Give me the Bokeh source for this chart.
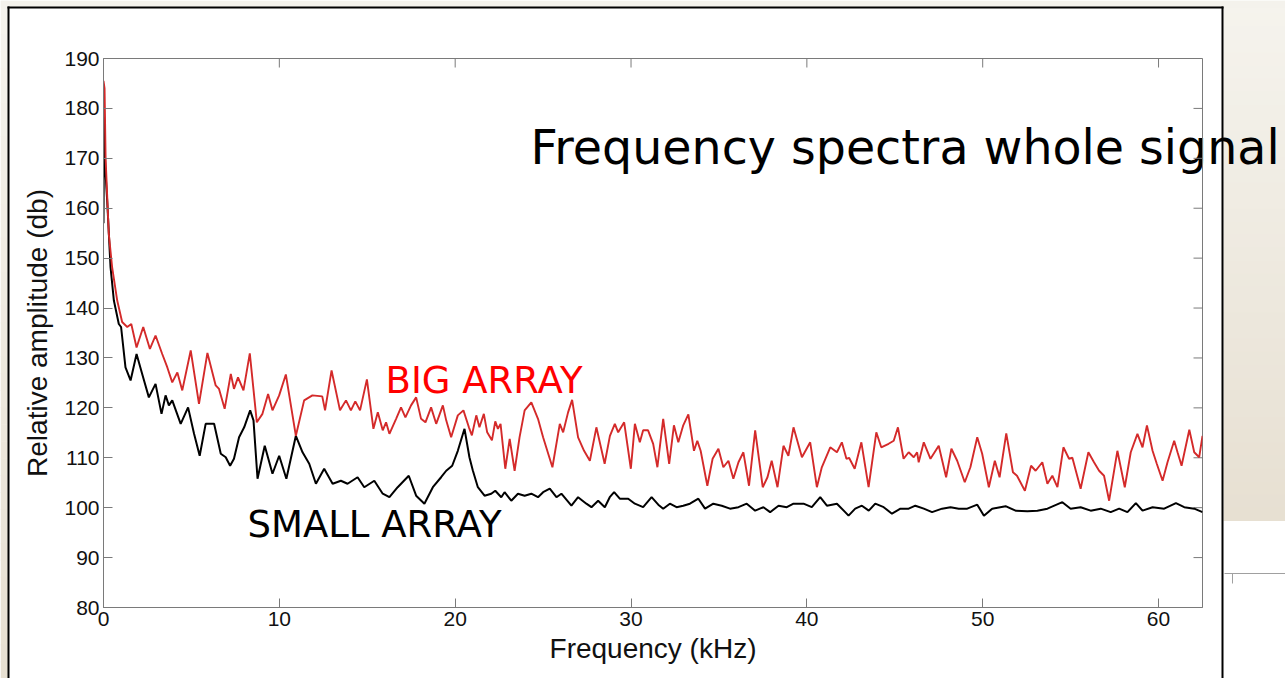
import numpy as np
from bokeh.plotting import figure
from bokeh.models import Range1d, FixedTicker, Label, GridBox
from bokeh.embed import file_html
from bokeh.resources import INLINE

# ---------------- data ----------------
big_freq = [0.00, 0.06, 0.12, 0.30, 0.49, 0.78, 1.06, 1.35, 1.58, 1.88, 2.26, 2.64, 2.96, 3.34, 3.63,
            3.91, 4.20, 4.48, 4.96, 5.43, 5.91, 6.38, 6.57, 6.89, 7.24, 7.42, 7.65, 7.96, 8.32, 8.72,
            9.04, 9.36, 9.61, 9.99, 10.37, 10.94, 11.41, 11.88, 12.44, 12.60, 12.97, 13.45, 13.79, 14.07,
            14.32, 14.59, 14.98, 15.35, 15.60, 15.88, 16.07, 16.26, 16.64, 16.92, 17.17, 17.49, 17.78,
            18.06, 18.31, 18.63, 18.92, 19.30, 19.49, 19.77, 20.15, 20.47, 20.78, 20.95, 21.20, 21.38,
            21.63, 21.82, 22.09, 22.28, 22.43, 22.58, 22.85, 23.10, 23.38, 23.66, 23.95, 24.33, 24.71,
            25.00, 25.53, 25.95, 26.14, 26.42, 26.65, 26.99, 27.33, 27.66, 28.03, 28.50, 28.80, 29.08,
            29.27, 29.61, 29.99, 30.22, 30.50, 30.69, 30.97, 31.26, 31.50, 31.83, 32.17, 32.44, 32.69,
            32.97, 33.26, 33.58, 33.77, 33.96, 34.34, 34.64, 34.97, 35.25, 35.54, 35.82, 36.11, 36.39,
            36.71, 37.06, 37.49, 37.76, 38.00, 38.33, 38.67, 38.95, 39.24, 39.72, 40.19, 40.57, 40.85,
            41.33, 41.71, 41.99, 42.25, 42.40, 42.72, 43.10, 43.51, 43.95, 44.23, 44.65, 44.94, 45.18,
            45.50, 45.79, 46.08, 46.27, 46.36, 46.65, 47.03, 47.50, 47.92, 48.22, 48.55, 48.98, 49.30,
            49.69, 49.97, 50.35, 50.69, 50.96, 51.34, 51.72, 51.95, 52.40, 52.75, 53.01, 53.39, 53.68,
            53.96, 54.25, 54.59, 54.91, 55.10, 55.57, 56.01, 56.33, 56.62, 56.90, 57.19, 57.66, 58.08,
            58.42, 58.80, 59.09, 59.34, 59.66, 59.90, 60.23, 60.51, 60.89, 61.08, 61.31, 61.75, 62.03,
            62.31, 62.50]
big_db = [185.5, 184.0, 170.0, 154.9, 148.2, 141.5, 137.2, 136.2, 136.8, 132.1, 136.2, 131.8, 134.5, 130.8, 128.1,
          125.1, 127.1, 123.5, 131.5, 120.8, 131.0, 124.5, 123.8, 119.8, 126.8, 123.8, 126.1, 123.5, 130.9, 117.1,
          118.8, 122.8, 119.5, 122.5, 126.7, 114.4, 121.5, 122.5, 122.3, 119.5, 127.5, 119.5, 121.5, 119.5,
          121.3, 119.5, 125.7, 115.8, 119.1, 115.5, 117.1, 114.8, 117.8, 120.1, 118.1, 120.5, 122.1,
          117.8, 117.1, 120.1, 116.8, 120.5, 117.5, 114.1, 118.5, 119.5, 116.1, 114.5, 118.5, 116.1,
          118.8, 115.1, 113.5, 117.3, 115.8, 116.8, 107.8, 113.8, 107.4, 114.1, 119.5, 121.1, 117.8,
          114.1, 108.1, 116.8, 115.1, 119.1, 121.6, 114.1, 111.4, 109.4, 116.1, 108.8, 114.4, 116.8,
          115.1, 117.1, 107.8, 116.8, 113.1, 115.5, 115.5, 112.8, 108.1, 117.8, 108.8, 116.5, 113.1,
          116.5, 118.7, 111.4, 113.4, 111.4, 104.4, 109.8, 111.8, 108.1, 109.4, 105.8, 109.1, 111.1,
          104.4, 115.5, 104.1, 106.1, 109.4, 104.1, 112.4, 110.4, 116.1, 110.1, 113.1, 104.1, 108.1,
          112.1, 111.1, 113.1, 109.8, 110.0, 107.8, 113.1, 104.1, 115.1, 112.1, 112.8, 113.4, 116.1,
          109.8, 111.1, 110.1, 111.1, 109.1, 113.1, 109.8, 112.4, 106.1, 111.8, 109.4, 105.1, 108.1,
          114.1, 110.8, 104.1, 109.4, 106.1, 114.9, 107.1, 106.4, 103.4, 108.4, 107.4, 109.1, 104.8,
          106.4, 104.1, 112.1, 109.8, 110.0, 103.8, 111.1, 109.1, 107.4, 106.4, 101.4, 111.4, 104.1,
          111.1, 114.8, 112.1, 116.5, 111.4, 108.8, 105.4, 109.1, 113.4, 111.1, 108.4, 115.6, 111.1,
          110.1, 114.4]

small_freq = [0.00, 0.03, 0.10, 0.21, 0.40, 0.59, 0.87, 1.00, 1.25, 1.54, 1.88, 2.20, 2.58, 2.96, 3.30,
              3.53, 3.72, 3.91, 4.39, 4.81, 5.15, 5.47, 5.81, 6.29, 6.67, 6.95, 7.20, 7.42, 7.71, 8.00,
              8.34, 8.53, 8.76, 9.17, 9.61, 9.99, 10.40, 10.94, 11.32, 11.70, 12.08, 12.55, 13.03, 13.50,
              13.88, 14.45, 14.83, 15.40, 15.88, 16.26, 16.73, 17.36, 17.78, 18.25, 18.73, 19.20, 19.49,
              19.83, 20.15, 20.53, 20.81, 21.00, 21.29, 21.67, 22.05, 22.28, 22.62, 22.81, 23.19, 23.57,
              23.95, 24.33, 24.71, 25.00, 25.38, 25.76, 26.04, 26.61, 26.99, 27.46, 27.75, 28.13, 28.51,
              28.79, 29.04, 29.36, 29.84, 30.22, 30.69, 31.17, 31.55, 31.83, 32.21, 32.59, 32.97, 33.35,
              33.83, 34.21, 34.68, 35.16, 35.63, 36.11, 36.58, 37.06, 37.53, 37.91, 38.39, 38.86, 39.24,
              39.81, 40.28, 40.76, 41.14, 41.71, 42.18, 42.37, 42.75, 43.13, 43.52, 43.89, 44.37, 44.84,
              45.32, 45.79, 46.17, 46.65, 47.12, 47.69, 48.17, 48.64, 49.12, 49.69, 50.07, 50.54, 51.30,
              51.87, 52.54, 53.11, 53.68, 54.53, 55.00, 55.57, 56.14, 56.71, 57.28, 57.76, 58.23, 58.71,
              59.09, 59.66, 60.32, 60.99, 61.46, 62.03, 62.50]
small_db = [157.0, 179.0, 168.0, 161.5, 148.2, 141.5, 136.8, 136.2, 128.1, 125.5, 130.8, 126.8, 122.1, 124.8, 118.8,
            122.5, 120.5, 121.5, 116.8, 120.1, 114.8, 110.4, 116.8, 116.8, 110.8, 110.1, 108.4, 109.8, 114.1, 116.1,
            119.5, 117.5, 105.8, 112.4, 106.8, 110.4, 105.8, 114.4, 111.1, 108.8, 104.8, 107.8, 104.8, 105.4,
            104.8, 106.1, 104.1, 105.4, 102.8, 102.1, 104.1, 106.4, 102.4, 100.8, 104.1, 106.1, 107.4,
            108.4, 111.4, 115.8, 110.1, 107.5, 104.1, 102.4, 102.8, 103.4, 102.1, 103.1, 101.4, 102.8,
            102.4, 102.8, 102.1, 103.1, 103.8, 102.1, 102.8, 100.4, 102.1, 100.8, 100.1, 101.4, 100.1,
            102.1, 103.1, 101.8, 101.8, 100.8, 100.1, 102.1, 100.6, 99.8, 100.8, 100.1, 100.4, 100.8,
            101.8, 99.8, 100.8, 100.4, 99.8, 100.1, 100.8, 99.4, 100.1, 99.1, 100.4, 100.1, 100.8,
            100.8, 100.1, 102.1, 100.4, 100.8, 99.1, 98.4, 99.8, 100.4, 99.4, 100.8, 100.1, 98.8,
            99.8, 99.8, 100.4, 99.8, 99.1, 99.8, 100.1, 99.8, 99.8, 100.6, 98.4, 99.8, 100.3,
            99.4, 99.3, 99.4, 99.8, 101.1, 99.8, 100.1, 99.4, 99.8, 99.1, 99.8, 99.1, 100.9,
            99.4, 100.1, 99.8, 100.9, 100.1, 99.8, 99.1]

x_ticks = [0, 10, 20, 30, 40, 50, 60]
y_ticks = [80, 90, 100, 110, 120, 130, 140, 150, 160, 170, 180, 190]

title_text = "Frequency spectra whole signal"
big_label = "BIG ARRAY"
small_label = "SMALL ARRAY"
x_label = "Frequency (kHz)"
y_label = "Relative amplitude (db)"

# ---------------- geometry ----------------
W, H = 1285, 678
FL, FR, FT, FB = 103, 1202, 58, 607
X0, X1 = 0.0, 62.5
Y0, Y1 = 80.0, 190.0
AX = "#7a7a7a"
TICK_PX = 9

# ---------------- background "slide" figure (pixel coordinates) ----------------
bg = figure(x_range=Range1d(0, W), y_range=Range1d(H, 0),
            frame_width=W, frame_height=H,
            output_backend="svg", toolbar_location=None, min_border=0,
            x_axis_type=None, y_axis_type=None)
bg.outline_line_color = None
bg.border_fill_color = "white"
bg.background_fill_color = "white"
bg.xgrid.visible = False
bg.ygrid.visible = False

c_top = np.array([245, 243, 237])
c_bot = np.array([231, 224, 210])


def hexc(c):
    return "#%02x%02x%02x" % tuple(int(round(v)) for v in c)


steps = 40
ql, qr, qt, qb, qc = [], [], [], [], []
for i in range(steps):
    f = i / (steps - 1)
    col = hexc(c_top + (c_bot - c_top) * f)
    # right-hand slide strip (gradient down to y=520)
    ql.append(1223); qr.append(W); qt.append(i * 520 / steps); qb.append((i + 1) * 520 / steps + 0.6); qc.append(col)
    # left-hand slide strip
    ql.append(0); qr.append(8); qt.append(i * H / steps); qb.append((i + 1) * H / steps + 0.6); qc.append(col)
ql.append(0); qr.append(W); qt.append(0); qb.append(7); qc.append("#f4f2ec")
bg.quad(left=ql, right=qr, top=qt, bottom=qb, fill_color=qc, line_color=None)

# thin grey rule at lower right
bg.segment(x0=[1224, 1232], y0=[573, 573], x1=[W, 1232], y1=[573, 583], line_color="#a0a0a0", line_width=1)
# black slide frame
bg.segment(x0=[8, 7, 1222], y0=[6, 7, 6], x1=[8, 1223, 1222], y1=[H, 7, H], line_color="#000000", line_width=2)

# title that overflows the chart box
bg.add_layout(Label(x=530, y=147, text=title_text, text_font="DejaVu Sans", text_font_size="47.5px",
                    text_color="#000000", text_baseline="alphabetic"))

# ---------------- chart figure (transparent, on top) ----------------
p = figure(width=W, height=H, x_range=Range1d(X0, X1), y_range=Range1d(Y0, Y1),
           output_backend="svg", toolbar_location=None,
           min_border_left=FL, min_border_right=W - FR, min_border_top=FT, min_border_bottom=H - FB,
           x_axis_label=x_label, y_axis_label=y_label)
p.border_fill_alpha = 0
p.background_fill_alpha = 0
p.outline_line_color = AX
p.xgrid.visible = False
p.ygrid.visible = False

for fig in (bg, p):
    try:
        fig.frame_align = False
    except Exception:
        pass

p.xaxis.ticker = FixedTicker(ticks=x_ticks)
p.yaxis.ticker = FixedTicker(ticks=y_ticks)

for ax in p.axis:
    ax.axis_line_color = AX
    ax.major_tick_line_color = AX
    ax.major_tick_in = TICK_PX
    ax.major_tick_out = 0
    ax.minor_tick_line_color = None
    ax.major_label_text_font = "Liberation Sans"
    ax.major_label_text_font_size = "21px"
    ax.major_label_text_color = "#111111"
    ax.major_label_standoff = 4
    ax.axis_label_text_font = "Liberation Sans"
    ax.axis_label_text_font_size = "28px"
    ax.axis_label_text_font_style = "normal"
    ax.axis_label_text_color = "#111111"
p.xaxis.axis_label_standoff = 4
p.yaxis.axis_label_standoff = 8

# inward ticks on the top and right edges of the box (same tick values)
tx = TICK_PX * (X1 - X0) / (FR - FL)
ty = TICK_PX * (Y1 - Y0) / (FB - FT)
p.segment(x0=x_ticks, y0=[Y1] * len(x_ticks), x1=x_ticks, y1=[Y1 - ty] * len(x_ticks),
          line_color=AX, line_width=1)
p.segment(x0=[X1] * len(y_ticks), y0=y_ticks, x1=[X1 - tx] * len(y_ticks), y1=y_ticks,
          line_color=AX, line_width=1)

p.line(small_freq, small_db, line_color="#000000", line_width=2.0)
p.line(big_freq, big_db, line_color="#d42a2a", line_width=1.9)

p.add_layout(Label(x=385, y=380, x_units="canvas", y_units="canvas", text=big_label,
                   text_font="DejaVu Sans", text_font_size="37px", text_color="#ff0000",
                   text_baseline="alphabetic"))
p.add_layout(Label(x=247, y=524, x_units="canvas", y_units="canvas", text=small_label,
                   text_font="DejaVu Sans", text_font_size="37px", text_color="#000000",
                   text_baseline="alphabetic"))

layout = GridBox(children=[(bg, 0, 0), (p, 0, 0)], spacing=0)
open("out.html", "w").write(file_html(layout, INLINE))
